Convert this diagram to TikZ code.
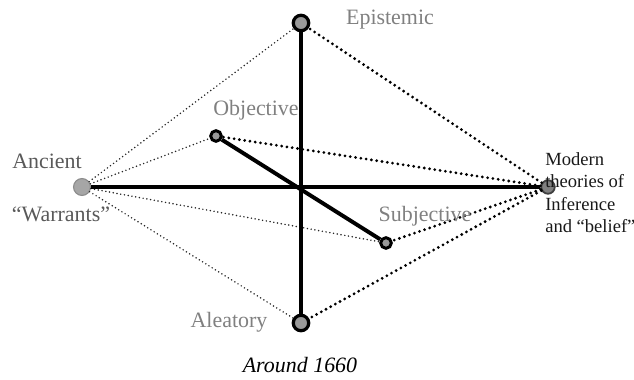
\documentclass[tikz,border=0pt]{standalone}
\usepackage{fontspec}
\setmainfont{Liberation Serif}
\usetikzlibrary{positioning}

\begin{document}
\begin{tikzpicture}[
  x=0.025cm, y=-0.025cm,
  pole/.style={circle, draw=black, line width=2.3pt, fill=black!40, minimum size=11pt, inner sep=0pt},
  halfpole/.style={circle, draw=black, line width=2.1pt, fill=black!40, minimum size=7.6pt, inner sep=0pt},
  axis/.style={line width=2.8pt},
  oldlink/.style={line width=1.2pt, line cap=round, dash pattern=on 0pt off 2.7pt, black!85},
  newlink/.style={line width=2.2pt, line cap=round, dash pattern=on 0pt off 3.8pt},
  lbl/.style={font=\fontsize{15.6}{18}\selectfont, inner sep=0pt, text=black!50},
  every node/.style={inner sep=0pt}
]
\useasboundingbox (0,0) rectangle (634,380);

% poles
\node[pole] (epi) at (301,23) {};
\node[pole] (alea) at (301,323) {};
\node[halfpole] (obj) at (216,136) {};
\node[halfpole] (subj) at (386,243) {};
\node[circle, draw=black!45, line width=0.8pt, fill=black!35, minimum size=12pt] (anc) at (82,187) {};
\node[circle, draw=black!75, line width=1.3pt, fill=black!50, minimum size=9.6pt] (mod) at (548,187) {};

% links back to the ancients and on to the moderns
\foreach \n in {epi,obj,subj,alea} {
  \draw[oldlink] (anc) -- (\n);
  \draw[newlink] (mod) -- (\n);
}

% axes
\draw[axis] (anc) -- (mod);
\draw[axis] (epi) -- (alea);
\draw[axis] (obj) -- (subj);

% labels
\node[lbl] (epilbl) at (390,20) {Epistemic};
\node[lbl] (objlbl) at (256,110) {Objective};
\node[lbl] (subjlbl) at (425,216) {Subjective};
\node[lbl] (alealbl) at (229,322) {Aleatory};
\node[lbl, text=black!65] (anclbl) at (47,161) {Ancient};
\node[lbl, text=black!65] (warlbl) at (61,214) {``Warrants''};
\node[font=\fontsize{13.2}{16}\selectfont, align=left, anchor=north west, text=black!90] (modlbl) at (545,152)
  {Modern\\theories of\\Inference\\and ``belief''};
\node[font=\fontsize{15.6}{18}\selectfont\itshape] (date) at (300,365) {Around 1660};
\end{tikzpicture}
\end{document}
